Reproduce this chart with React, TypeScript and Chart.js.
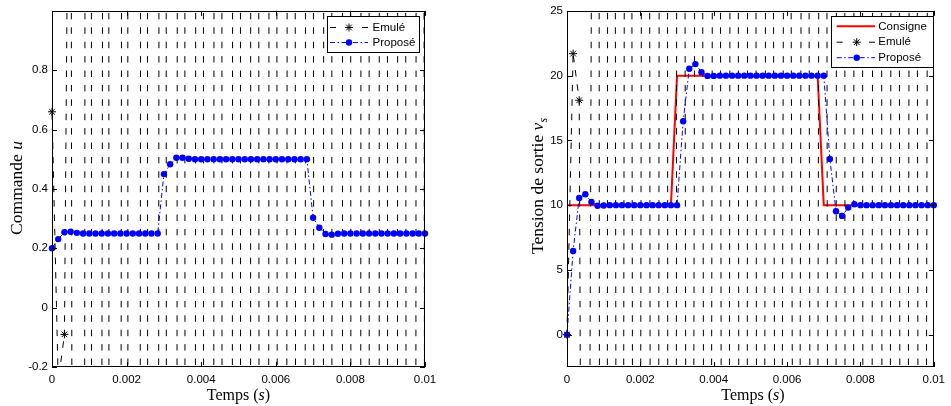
import React, { useEffect, useRef } from 'react';
import { Chart, registerables } from 'chart.js';

Chart.register(...registerables);

// ---------- data ----------
const SAMPLE_PERIOD = 1 / 6000; // s, one sample every 1/6000 s (61 samples over 0..0.01 s)

const xTickValues = [0, 0.002, 0.004, 0.006, 0.008, 0.01];
const xTickLabels = ['0', '0.002', '0.004', '0.006', '0.008', '0.01'];

const uTickValues = [-0.2, 0, 0.2, 0.4, 0.6, 0.8];
const uTickLabels = ['-0.2', '0', '0.2', '0.4', '0.6', '0.8'];

const vTickValues = [0, 5, 10, 15, 20, 25];
const vTickLabels = ['0', '5', '10', '15', '20', '25'];

// Commande u — emulated controller (diverging, mostly off-scale)
const uEmule = [
  0.66, -0.25, -0.09, 2.6, -12.1, -7.6, 21.0, -37.8, -0.6, 11.9,
  -64.8, -2.6, 17.4, -67.6, -5.6, 21.7, -35.8, -4.6, 23.2, -36.8,
  -3.6, 27.2, -43.3, -2.6, 30.7, -51.3, -1.1, 36.4, -69.5, -0.8,
  39.2, -82.0, 4.74, 10.4, -25.3, 3.9, 5.4, -19.6, 5.4, 4.4,
  -22.3, 7.96, 2.4, -22.6, 11.2, 1.9, -73.1, 27.6, 2.4, -30.9,
  15.15, 2.0, -78.0, 44.5, -0.96, -29.6, 21.25, -1.41, -19.6, 16.76,
  -1.83,
];

// Commande u — proposed controller
const uPropose = [
  0.2, 0.231, 0.254, 0.256, 0.252, 0.25, 0.25, 0.25, 0.25, 0.25,
  0.25, 0.25, 0.25, 0.25, 0.25, 0.25, 0.25, 0.25, 0.45, 0.483,
  0.505, 0.505, 0.502, 0.5, 0.5, 0.5, 0.5, 0.5, 0.5, 0.5,
  0.5, 0.5, 0.5, 0.5, 0.5, 0.5, 0.5, 0.5, 0.5, 0.5,
  0.5, 0.5, 0.303, 0.269, 0.248, 0.246, 0.249, 0.25, 0.25, 0.25,
  0.25, 0.25, 0.25, 0.25, 0.25, 0.25, 0.25, 0.25, 0.25, 0.25,
  0.25,
];

// Tension de sortie — set point
const vConsigne = [
  10, 10, 10, 10, 10, 10, 10, 10, 10, 10,
  10, 10, 10, 10, 10, 10, 10, 10, 20, 20,
  20, 20, 20, 20, 20, 20, 20, 20, 20, 20,
  20, 20, 20, 20, 20, 20, 20, 20, 20, 20,
  20, 20, 10, 10, 10, 10, 10, 10, 10, 10,
  10, 10, 10, 10, 10, 10, 10, 10, 10, 10,
  10,
];

// Tension de sortie — emulated (diverging, mostly off-scale)
const vEmule = [
  0, 21.7, 18.1, -100, 28.25, 211.25, -503, 326.5, -5.3, -88.75,
  223.75, -98.25, -18.75, 253.95, -179.45, -8.75, 491.25, -552.25, 66.95, 111.25,
  -166.55, 52.95, 71.25, -159.55, 81.05, 51.25, -198.75, 145.45, 36.25, -380.45,
  387.65, -8.55, -88.75, 155.15, -12.15, -38.75, 122.55, -23.85, -28.75, 161.75,
  -66.25, -13.75, 213.55, -147.65, -8.75, 491.25, -552.25, 66.95, 261.25, -414.55,
  33.65, 311.25, -301.05, 31.15, 161.25, -213.75, 36.25, 111.25, -174.45, 38.95,
  60,
];

// Tension de sortie — proposed
const vPropose = [
  0, 6.46, 10.56, 10.84, 10.25, 9.95, 9.97, 10, 10, 10,
  10, 10, 10, 10, 10, 10, 10, 10, 10, 16.48,
  20.53, 20.89, 20.27, 19.98, 19.98, 20, 20, 20, 20, 20,
  20, 20, 20, 20, 20, 20, 20, 20, 20, 20,
  20, 20, 20, 13.57, 9.53, 9.17, 9.81, 10.07, 10, 10,
  10, 10, 10, 10, 10, 10, 10, 10, 10, 10,
  10,
];

// ---------- styling ----------
const SANS = "'Liberation Sans', Arial, Helvetica, sans-serif";
const SERIF = "'Liberation Serif', 'Times New Roman', serif";
const TICK_FONT = 11.5;
const EMULE_DASH = [6.5, 7.9];
const EMULE_PERIOD = EMULE_DASH[0] + EMULE_DASH[1];
const PROPOSE_DASH = [5, 2.5, 1.5, 2.5];
const CLIP = { left: 8, right: 8, top: 0, bottom: 0 };

const toPoints = (vals: number[]) => vals.map((y, k) => ({ x: k * SAMPLE_PERIOD, y }));

// keeps the dashes of every near-vertical segment on the same rows
function alignedDashOffset(ctx: any) {
  const { p0, p1, chart } = ctx;
  const area = chart && chart.chartArea;
  if (!area || !p0 || !p1) return 0;
  const dy = p1.y - p0.y;
  if (Math.abs(dy) < 1) return 0;
  const ratio = Math.hypot(p1.x - p0.x, dy) / Math.abs(dy);
  const y0 = area.top + 2;
  const s = dy > 0 ? (y0 - p0.y) * ratio : (p0.y - (y0 + EMULE_DASH[0])) * ratio;
  let o = (-s) % EMULE_PERIOD;
  if (o < 0) o += EMULE_PERIOD;
  return o;
}

function emuleDataset(values: number[]) {
  return {
    label: 'Emulé',
    data: toPoints(values),
    borderColor: '#000000',
    borderWidth: 1,
    borderDash: EMULE_DASH,
    pointStyle: 'star',
    pointRadius: 4,
    pointBorderColor: '#000000',
    pointBackgroundColor: '#000000',
    pointBorderWidth: 1,
    tension: 0,
    clip: CLIP,
    order: 1,
    segment: { borderDashOffset: alignedDashOffset },
  };
}

function proposeDataset(values: number[]) {
  return {
    label: 'Proposé',
    data: toPoints(values),
    borderColor: '#0000ff',
    borderWidth: 1,
    borderDash: PROPOSE_DASH,
    pointStyle: 'circle',
    pointRadius: 3.2,
    pointBorderWidth: 0,
    pointBackgroundColor: '#0000ff',
    pointBorderColor: '#0000ff',
    tension: 0,
    clip: CLIP,
    order: 0,
  };
}

function consigneDataset(values: number[]) {
  return {
    label: 'Consigne',
    data: toPoints(values),
    borderColor: '#ff0000',
    borderWidth: 2,
    pointRadius: 0,
    tension: 0,
    clip: CLIP,
    order: 2,
  };
}

type Part = { text: string; italic?: boolean; sub?: boolean };

function drawParts(ctx: CanvasRenderingContext2D, parts: Part[], cx: number, cy: number, rotate: boolean, size: number) {
  ctx.save();
  ctx.translate(cx, cy);
  if (rotate) ctx.rotate(-Math.PI / 2);
  const fontFor = (p: Part) => `${p.italic ? 'italic ' : ''}${p.sub ? Math.round(size * 0.7) : size}px ${SERIF}`;
  let total = 0;
  for (const p of parts) {
    ctx.font = fontFor(p);
    total += ctx.measureText(p.text).width;
  }
  let x = -total / 2;
  ctx.fillStyle = '#000';
  ctx.textBaseline = 'alphabetic';
  ctx.textAlign = 'left';
  const base = size * 0.33;
  for (const p of parts) {
    ctx.font = fontFor(p);
    ctx.fillText(p.text, x, p.sub ? base + size * 0.25 : base);
    x += ctx.measureText(p.text).width;
  }
  ctx.restore();
}

function drawStar(ctx: CanvasRenderingContext2D, x: number, y: number, r: number) {
  ctx.beginPath();
  ctx.moveTo(x - r, y); ctx.lineTo(x + r, y);
  ctx.moveTo(x, y - r); ctx.lineTo(x, y + r);
  const d = r * Math.SQRT1_2;
  ctx.moveTo(x - d, y - d); ctx.lineTo(x + d, y + d);
  ctx.moveTo(x - d, y + d); ctx.lineTo(x + d, y - d);
  ctx.stroke();
}

type LegendCfg = {
  box: { x: number; y: number; w: number; h: number };
  rows: number[];
  lineX0: number;
  lineX1: number;
  markerX: number;
  textX: number;
  entries: { label: string; kind: 'consigne' | 'emule' | 'propose' }[];
};

function decorPlugin(opts: {
  yTicks: number[];
  xTitle: Part[];
  xTitlePos: [number, number];
  yTitle: Part[];
  yTitlePos: [number, number];
  legend: LegendCfg;
}) {
  return {
    id: 'decor',
    afterDraw(chart: any) {
      const ctx: CanvasRenderingContext2D = chart.ctx;
      const { left, right, top, bottom } = chart.chartArea;
      const xs = chart.scales.x;
      const ys = chart.scales.y;
      ctx.save();
      // frame
      ctx.strokeStyle = '#000';
      ctx.lineWidth = 1;
      ctx.setLineDash([]);
      ctx.strokeRect(Math.round(left) + 0.5, Math.round(top) + 0.5, Math.round(right - left) - 1, Math.round(bottom - top) - 1);
      // inner ticks
      const T = 5;
      ctx.beginPath();
      for (const v of xTickValues) {
        const px = Math.round(xs.getPixelForValue(v)) + 0.5;
        ctx.moveTo(px, bottom); ctx.lineTo(px, bottom - T);
        ctx.moveTo(px, top); ctx.lineTo(px, top + T);
      }
      for (const v of opts.yTicks) {
        const py = Math.round(ys.getPixelForValue(v)) + 0.5;
        ctx.moveTo(left, py); ctx.lineTo(left + T, py);
        ctx.moveTo(right, py); ctx.lineTo(right - T, py);
      }
      ctx.stroke();

      // axis titles
      drawParts(ctx, opts.xTitle, opts.xTitlePos[0], opts.xTitlePos[1], false, 16);
      drawParts(ctx, opts.yTitle, opts.yTitlePos[0], opts.yTitlePos[1], true, 17.5);

      // legend
      const L = opts.legend;
      ctx.fillStyle = '#fff';
      ctx.fillRect(L.box.x, L.box.y, L.box.w, L.box.h);
      ctx.strokeStyle = '#000';
      ctx.lineWidth = 1;
      ctx.strokeRect(L.box.x + 0.5, L.box.y + 0.5, L.box.w, L.box.h);
      L.entries.forEach((e, i) => {
        const y = L.rows[i];
        ctx.save();
        if (e.kind === 'consigne') {
          ctx.strokeStyle = '#ff0000';
          ctx.lineWidth = 2;
          ctx.beginPath();
          ctx.moveTo(L.lineX0, y); ctx.lineTo(L.lineX1, y);
          ctx.stroke();
        } else if (e.kind === 'emule') {
          ctx.strokeStyle = '#000';
          ctx.lineWidth = 1;
          ctx.beginPath();
          ctx.moveTo(L.lineX0, y + 0.5); ctx.lineTo(L.lineX0 + 6, y + 0.5);
          ctx.moveTo(L.lineX1 - 6, y + 0.5); ctx.lineTo(L.lineX1, y + 0.5);
          ctx.stroke();
          drawStar(ctx, L.markerX, y + 0.5, 4);
        } else {
          ctx.strokeStyle = '#0000ff';
          ctx.lineWidth = 1;
          ctx.setLineDash(PROPOSE_DASH);
          ctx.beginPath();
          ctx.moveTo(L.lineX0, y + 0.5); ctx.lineTo(L.lineX1, y + 0.5);
          ctx.stroke();
          ctx.setLineDash([]);
          ctx.fillStyle = '#0000ff';
          ctx.beginPath();
          ctx.arc(L.markerX, y + 0.5, 3.2, 0, Math.PI * 2);
          ctx.fill();
        }
        ctx.restore();
        ctx.fillStyle = '#000';
        ctx.font = `${TICK_FONT}px ${SANS}`;
        ctx.textAlign = 'left';
        ctx.textBaseline = 'middle';
        ctx.fillText(e.label, L.textX, y + 0.5);
      });
      ctx.restore();
    },
  };
}

function makeConfig(p: {
  datasets: any[];
  yMin: number;
  yMax: number;
  yTicks: number[];
  yLabels: string[];
  yWidth: number;
  padRight: number;
  plugin: any;
}) {
  return {
    type: 'line',
    data: { datasets: p.datasets },
    options: {
      responsive: false,
      animation: false,
      devicePixelRatio: 1,
      events: [],
      layout: { padding: { left: 0, top: 10, right: p.padRight, bottom: 0 } },
      plugins: { legend: { display: false }, tooltip: { enabled: false }, title: { display: false } },
      scales: {
        x: {
          type: 'linear',
          min: 0,
          max: 0.01,
          grid: { display: false, drawTicks: false },
          border: { display: false },
          afterBuildTicks: (scale: any) => {
            scale.ticks = xTickValues.map((v) => ({ value: v }));
          },
          afterFit: (scale: any) => {
            scale.height = 39;
          },
          ticks: {
            padding: 6,
            color: '#000',
            maxRotation: 0,
            font: { family: SANS, size: TICK_FONT },
            callback: (_v: any, i: number) => xTickLabels[i],
          },
        },
        y: {
          type: 'linear',
          min: p.yMin,
          max: p.yMax,
          grid: { display: false, drawTicks: false },
          border: { display: false },
          afterBuildTicks: (scale: any) => {
            scale.ticks = p.yTicks.map((v) => ({ value: v }));
          },
          afterFit: (scale: any) => {
            scale.width = p.yWidth;
          },
          ticks: {
            padding: 4,
            color: '#000',
            font: { family: SANS, size: TICK_FONT },
            callback: (_v: any, i: number) => p.yLabels[i],
          },
        },
      },
    },
    plugins: [p.plugin],
  } as any;
}

export default function App() {
  const leftRef = useRef<HTMLCanvasElement>(null);
  const rightRef = useRef<HTMLCanvasElement>(null);

  useEffect(() => {
    document.body.style.margin = '0';
    const leftChart = new Chart(
      leftRef.current as HTMLCanvasElement,
      makeConfig({
        datasets: [proposeDataset(uPropose), emuleDataset(uEmule)],
        yMin: -0.2,
        yMax: 1.0,
        yTicks: uTickValues,
        yLabels: uTickLabels,
        yWidth: 52,
        padRight: 50,
        plugin: decorPlugin({
          yTicks: uTickValues,
          xTitle: [{ text: 'Temps (' }, { text: 's', italic: true }, { text: ')' }],
          xTitlePos: [238.5, 395],
          yTitle: [{ text: 'Commande ' }, { text: 'u', italic: true }],
          yTitlePos: [16, 188],
          legend: {
            box: { x: 327, y: 16, w: 92, h: 36 },
            rows: [27, 42],
            lineX0: 330,
            lineX1: 368,
            markerX: 349,
            textX: 372.5,
            entries: [
              { label: 'Emulé', kind: 'emule' },
              { label: 'Proposé', kind: 'propose' },
            ],
          },
        }),
      })
    );
    const rightChart = new Chart(
      rightRef.current as HTMLCanvasElement,
      makeConfig({
        datasets: [proposeDataset(vPropose), emuleDataset(vEmule), consigneDataset(vConsigne)],
        yMin: -2.5,
        yMax: 25,
        yTicks: vTickValues,
        yLabels: vTickLabels,
        yWidth: 92,
        padRight: 12,
        plugin: decorPlugin({
          yTicks: vTickValues,
          xTitle: [{ text: 'Temps (' }, { text: 's', italic: true }, { text: ')' }],
          xTitlePos: [278, 395],
          yTitle: [
            { text: 'Tension de sortie ' },
            { text: 'v', italic: true },
            { text: 's', italic: true, sub: true },
          ],
          yTitlePos: [62, 186],
          legend: {
            box: { x: 356, y: 16, w: 102, h: 51 },
            rows: [26.3, 41.7, 57.2],
            lineX0: 361.7,
            lineX1: 400,
            markerX: 381.7,
            textX: 403.3,
            entries: [
              { label: 'Consigne', kind: 'consigne' },
              { label: 'Emulé', kind: 'emule' },
              { label: 'Proposé', kind: 'propose' },
            ],
          },
        }),
      })
    );
    return () => {
      leftChart.destroy();
      rightChart.destroy();
    };
  }, []);

  return (
    <div style={{ position: 'fixed', left: 0, top: 0, width: 951, height: 406, background: '#ffffff' }}>
      <canvas
        ref={leftRef}
        width={475}
        height={406}
        style={{ position: 'absolute', left: 0, top: 0, width: 475, height: 406 }}
      />
      <canvas
        ref={rightRef}
        width={476}
        height={406}
        style={{ position: 'absolute', left: 475, top: 0, width: 476, height: 406 }}
      />
    </div>
  );
}
